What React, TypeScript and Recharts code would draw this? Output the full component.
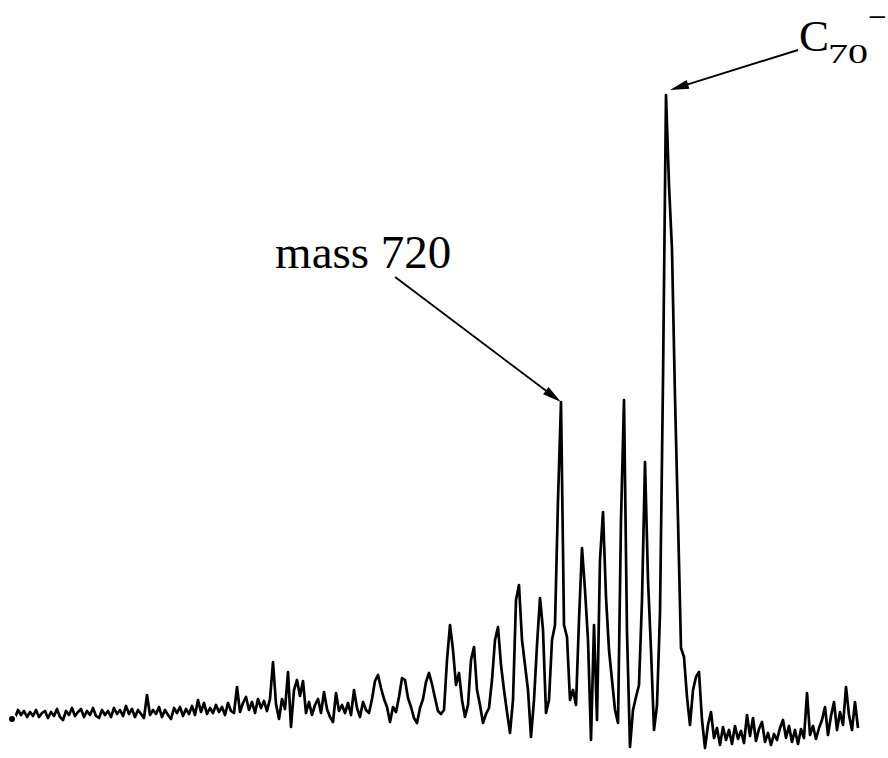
import React from 'react';
import { LineChart, Line, XAxis, YAxis, ReferenceLine } from 'recharts';

// Detector intensity per channel, low-mass noise floor
const lowMassNoise = [
  1, 2, 10, 5, 9, 3, 8, 4, 10, 3,
  7, 9, 2, 8, 4, 11, 3, 0, 9, 5,
  12, 4, 8, 11, 3, 9, 5, 12, 4, 2,
  10, 5, 9, 3, 12, 6, 10, 4, 14, 6,
  11, 3, 10, 6, 2, 25, 5, 10, 6, 13,
  3, 10, 5, 1, 12, 7, 13, 4, 11, 6,
  14, 5, 20, 8, 17, 6, 12,
];

// Noise with the first small cluster peaks
const midMassNoise = [
  7, 15, 8, 13, 5, 17, 9, 7, 33, 8,
  17, 23, 10, 18, 7, 21, 12, 19, 9, 21,
  58, 16, 1, 21, 11, 48, -7, 30, 40, 24,
  39, 7, 18, 5, 15, 21, 7, 28, 11, 3,
  -2, 27, 9, 15, 7, 17, 5, 30, 12, 3,
  18, 10, 7, 21, 39, 45, 32, 21, 13, -2,
  13, 8, 23, 42, 40, 22, 13, 2, -3, 12,
  21, 38, 47, 36, 22, 9,
];

// Even-numbered cluster series up to C70
const clusterPeaks = [
  6, 10, 60, 95, 70, 35, 47, 20, 3, 15,
  60, 73, 30, 15, -3, 6, 12, 40, 80, 93,
  55, 30, 8, -13, 20, 120, 135, 80, 55, 30,
  -17, 20, 75, 122, 90, 7, 20, 80, 95, 220,
  318, 95, 83, 20, 30, 15, 100, 172, 130, 80,
  -20, 95, 0, 160, 208, 123, 70, 40, 10, -3,
  200, 320, 88, -27, 10, 23, 35, 120, 258, 140,
  70, -10, 15, 107, 340, 625, 535, 470, 323, 200,
  72, 63, 23, -5, 30, 43, 48,
];

// Above C70
const highMassTail = [
  0, -28, -5, 8, -18, -8, -25, -7, -20, -10,
  -24, -6, -19, -11, -23, 5, -16, 2, -21, -9,
  -2, -22, -13, -25, -14, -20, -8, 0, -18, -6,
  -22, -10, -24, -9, -18, 27, -15, -6, -19, -8,
  0, 13, -15, 4, 18, -10, 8, -5, 33, 5,
  -10, 18, -8,
];

const intensity = [...lowMassNoise, ...midMassNoise, ...clusterPeaks, ...highMassTail];

// labelled peaks (channel index)
const MASS_720_CH = 183;
const C70_CH = 218;

const data = intensity.map((v, ch) => ({ ch, v }));

const FONT = '"Liberation Serif", "Times New Roman", serif';

function arrowParts(x1: number, y1: number, x2: number, y2: number) {
  const dx = x2 - x1;
  const dy = y2 - y1;
  const len = Math.hypot(dx, dy) || 1;
  const ux = dx / len;
  const uy = dy / len;
  const head = 19;
  const half = 4.5;
  const bx = x2 - ux * head;
  const by = y2 - uy * head;
  const px = -uy * half;
  const py = ux * half;
  return (
    <>
      <line x1={x1} y1={y1} x2={bx + ux * 2} y2={by + uy * 2} stroke="#000" strokeWidth={1.9} />
      <polygon points={`${x2},${y2} ${bx + px},${by + py} ${bx - px},${by - py}`} fill="#000" />
    </>
  );
}

function MassArrow(props: any) {
  const { x1, y1, x2, y2 } = props;
  return (
    <g>
      {arrowParts(x1, y1, x2, y2)}
      <text x={x1 - 120} y={y1 - 9} fontFamily={FONT} fontSize={47} fill="#000">
        mass 720
      </text>
    </g>
  );
}

function C70Arrow(props: any) {
  const { x1, y1, x2, y2 } = props;
  return (
    <g>
      {arrowParts(x1, y1, x2, y2)}
      <text fontFamily={FONT} fill="#000">
        <tspan x={x1 + 1} y={y1 + 1} fontSize={45}>C</tspan>
        <tspan x={x1 + 30} y={y1 + 13} fontSize={28} textLength={40} lengthAdjust="spacingAndGlyphs">70</tspan>
        <tspan x={x1 + 70} y={y1 - 22} fontSize={33}>−</tspan>
      </text>
    </g>
  );
}

export default function App() {
  return (
    <div style={{ position: 'absolute', left: 0, top: 0, width: 888, height: 758, background: '#fff' }}>
      <LineChart width={888} height={758} data={data} margin={{ top: 0, right: 0, bottom: 0, left: 0 }}>
        <XAxis dataKey="ch" type="number" domain={[-4, 292]} hide />
        <YAxis type="number" domain={[-38, 720]} hide allowDataOverflow />
        <Line
          type="linear"
          dataKey="v"
          stroke="#000"
          strokeWidth={2.7}
          strokeLinejoin="round"
          dot={false}
          isAnimationActive={false}
        />
        <ReferenceLine
          segment={[
            { x: 127.7, y: 443 },
            { x: MASS_720_CH, y: intensity[MASS_720_CH] },
          ]}
          ifOverflow="visible"
          shape={(p: any) => <MassArrow {...p} />}
        />
        <ReferenceLine
          segment={[
            { x: 262, y: 670 },
            { x: C70_CH + 1.3, y: intensity[C70_CH] + 5 },
          ]}
          ifOverflow="visible"
          shape={(p: any) => <C70Arrow {...p} />}
        />
      </LineChart>
    </div>
  );
}
